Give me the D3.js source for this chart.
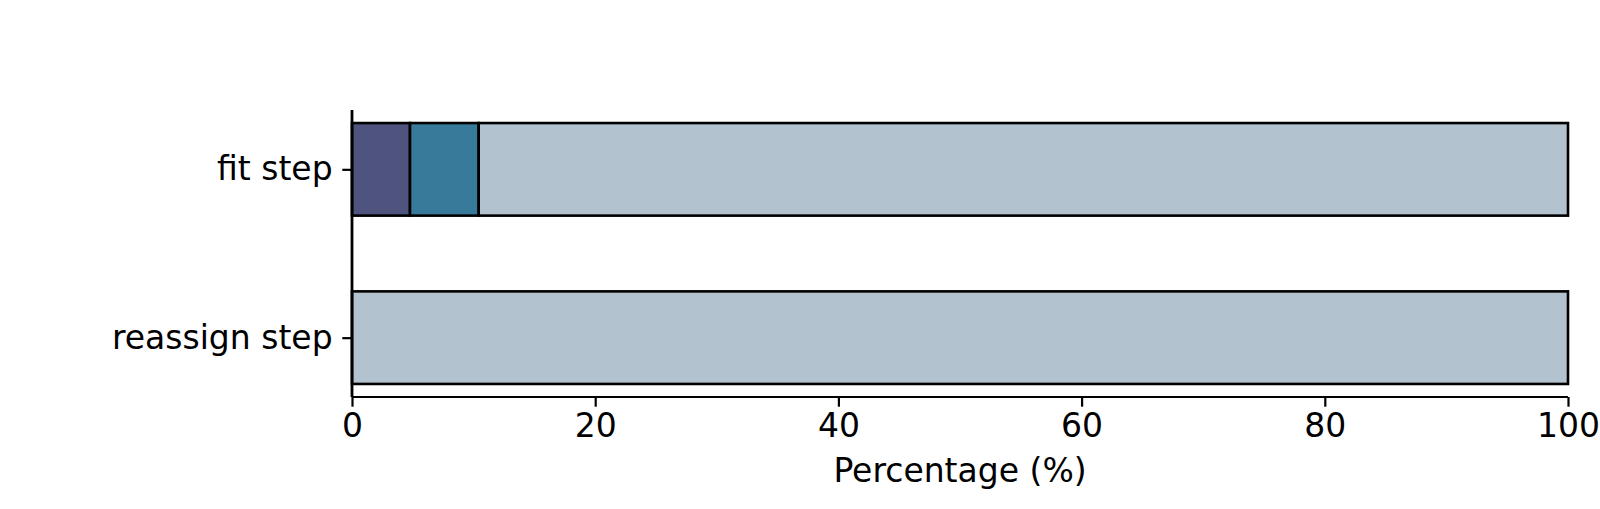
<!DOCTYPE html>
<html>
<head>
<meta charset="utf-8">
<script src="https://cdn.jsdelivr.net/npm/d3@7"></script>
<style>
  body { margin: 0; background: #fff; }
  svg { display: block; }
  text { font-family: "DejaVu Sans", sans-serif; fill: #000; }
</style>
</head>
<body>
<div id="chart"></div>
<script>
// categories, top to bottom
var categories = ["fit step", "reassign step"];
// stacked segment names and their colours
var segmentNames = ["part 1", "part 2", "rest"];
var segmentColors = ["#4e547e", "#387a99", "#b2c2cf"];
// percentage per segment, one array per category
var fitStep = [4.77, 5.65, 89.58];
var reassignStep = [0, 0, 100];
var xTicks = [0, 20, 40, 60, 80, 100];

var width = 1600, height = 509;
var margin = {top: 110, right: 32, bottom: 112, left: 352};
var barHeight = 0.55;
var fontSize = 33;

var rows = [fitStep, reassignStep].map(function(vals, i) {
  var row = {category: categories[i]};
  segmentNames.forEach(function(n, j) { row[n] = vals[j]; });
  return row;
});

var svg = d3.select("#chart").append("svg")
  .attr("width", width)
  .attr("height", height);

var x = d3.scaleLinear()
  .domain([0, 100])
  .range([margin.left, width - margin.right]);

// matplotlib-like: index positions with 5% margins around the bars
var lo = -barHeight / 2, hi = categories.length - 1 + barHeight / 2;
var pad = (hi - lo) * 0.05;
var y = d3.scaleLinear()
  .domain([lo - pad, hi + pad])
  .range([margin.top, height - margin.bottom]);

var stack = d3.stack().keys(segmentNames);
var series = stack(rows);

svg.append("g")
  .selectAll("g")
  .data(series)
  .join("g")
  .attr("fill", function(d, i) { return segmentColors[i]; })
  .selectAll("rect")
  .data(function(d) { return d; })
  .join("rect")
  .filter(function(d) { return d[1] - d[0] > 0; })
  .attr("x", function(d) { return x(d[0]); })
  .attr("width", function(d) { return x(d[1]) - x(d[0]); })
  .attr("y", function(d, i) { return y(i - barHeight / 2); })
  .attr("height", function() { return y(barHeight) - y(0); })
  .attr("stroke", "#000")
  .attr("stroke-width", 2.6);

// x axis
var xAxis = d3.axisBottom(x)
  .tickValues(xTicks)
  .tickSize(9.7)
  .tickPadding(7);

var gx = svg.append("g")
  .attr("transform", "translate(0," + (height - margin.bottom) + ")")
  .call(xAxis);
gx.select(".domain").attr("stroke-width", 2.2).attr("d", "M" + x(0) + ",0H" + x(100));
gx.selectAll(".tick line").attr("stroke-width", 2.2);
gx.selectAll(".tick text").attr("font-size", fontSize).attr("font-family", "DejaVu Sans").attr("fill", "#000");

// y axis
var yAxis = d3.axisLeft(y)
  .tickValues(d3.range(categories.length))
  .tickFormat(function(i) { return categories[i]; })
  .tickSize(9.7)
  .tickPadding(9.7);

var gy = svg.append("g")
  .attr("transform", "translate(" + margin.left + ",0)")
  .call(yAxis);
gy.select(".domain").attr("stroke-width", 2.8)
  .attr("d", "M0," + margin.top + "V" + (height - margin.bottom));
gy.selectAll(".tick line").attr("stroke-width", 2.2);
gy.selectAll(".tick text").attr("font-size", fontSize).attr("font-family", "DejaVu Sans").attr("fill", "#000");

// x label
svg.append("text")
  .attr("x", (x(0) + x(100)) / 2)
  .attr("y", 482)
  .attr("text-anchor", "middle")
  .attr("font-size", fontSize)
  .text("Percentage (%)");
</script>
</body>
</html>
